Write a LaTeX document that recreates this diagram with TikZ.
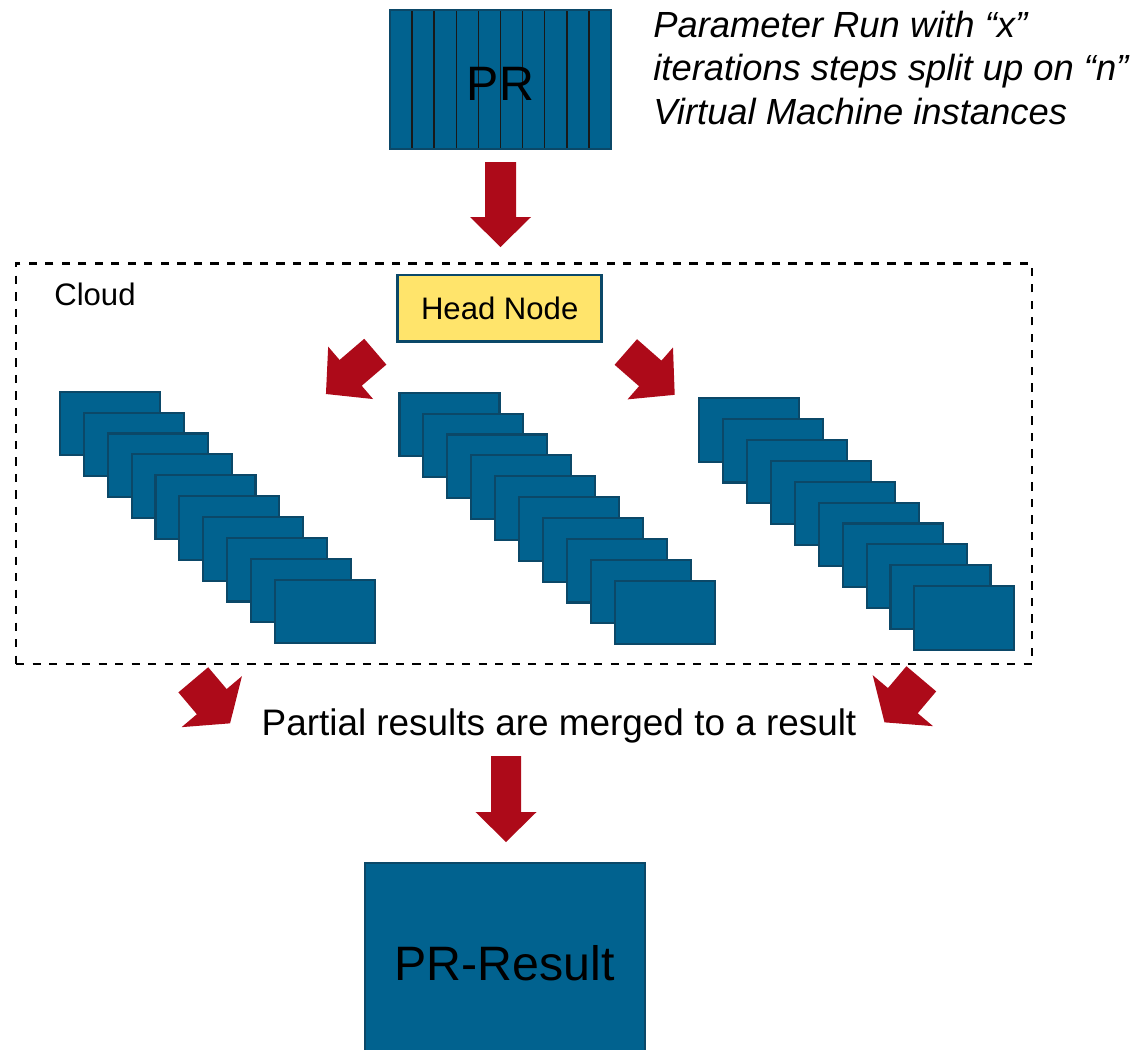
\documentclass[tikz,border=0pt]{standalone}
\usepackage{fontspec}
\setmainfont{Liberation Sans}
\usepackage{tikz}
\usetikzlibrary{calc}
\definecolor{vmblue}{HTML}{01628F}
\definecolor{vmedge}{HTML}{0B4868}
\definecolor{headyellow}{HTML}{FFE46B}
\definecolor{flowred}{HTML}{AD0A19}

\begin{document}
\begin{tikzpicture}[
  x=0.02cm, y=-0.02cm,
  vm/.style={draw=vmedge,fill=vmblue,line width=1.2pt,minimum width=2.0cm,
             minimum height=1.27cm,inner sep=0pt,outer sep=0pt},
  bigbox/.style={draw=vmedge,fill=vmblue,line width=1.1pt,inner sep=0pt,
                 font=\fontsize{27.5}{33}\selectfont},
  lbl/.style={inner sep=0pt,font=\fontsize{17.7}{21}\selectfont},
  pics/fatarrow/.style args={#1/#2/#3/#4}{code={
    \fill[flowred] (0,-#2/2) -- (#1-#4,-#2/2) -- (#1-#4,-#3/2) -- (#1,0)
      -- (#1-#4,#3/2) -- (#1-#4,#2/2) -- (0,#2/2) -- cycle;
  }}
]
\useasboundingbox (0,0) rectangle (1146,1049);

% parameter run, split in strips
\node[bigbox,minimum width=4.42cm,minimum height=2.78cm,text height=23.4pt,text depth=0pt,
      path picture={
        \foreach \k in {1,...,9}
          \draw[black!90,line width=0.85pt]
            ($(path picture bounding box.north west)!\k/10!(path picture bounding box.north east)$)
            -- ($(path picture bounding box.south west)!\k/10!(path picture bounding box.south east)$);
      }] (pr) at (500.5,79.5) {PR};
\node[anchor=base west,inner sep=0pt,align=left,
      font=\fontsize{20.7}{24.5}\selectfont\itshape] (note) at (653,124)
     {Parameter Run with “x”\\iterations steps split up on “n”\\Virtual Machine instances};

% cloud
\node[draw,line width=1.4pt,dash pattern=on 4.7pt off 4.7pt,minimum width=20.32cm,
      minimum height=8.01cm,inner sep=0pt] (cloud) at (524,463.7) {};
\node[lbl,anchor=base west] (cloudlbl) at (54,305) {Cloud};
\node[lbl,draw=vmedge,fill=headyellow,line width=1.5pt,minimum width=4.08cm,
      minimum height=1.33cm] (head) at (499.7,308.3) {Head Node};

% virtual machine stacks
\foreach \sx/\sy/\nm in {109.9/423.4/a,449.5/424.4/b,749.3/429.8/c}
  \foreach \i in {0,...,9}
    \node[vm] (\nm\i) at ({\sx+23.9*\i},{\sy+20.9*\i}) {};

% merging
\node[inner sep=0pt,anchor=base,font=\fontsize{21}{25}\selectfont] (merge)
     at (559,735) {Partial results are merged to a result};
\node[bigbox,minimum width=5.6cm,minimum height=4.04cm] (res) at (504.7,963.7) {PR-Result};

% block arrows
\pic[rotate=-90] at (500.5,162) {fatarrow=85/31/61/30};
\pic[rotate=-139.4] at (375.3,351.7) {fatarrow=65/34/69/32.5};
\pic[rotate=-41.2] at (625.8,352) {fatarrow=65/34/69/32.5};
\pic[rotate=-49.8] at (193.3,679.8) {fatarrow=57/39/79/28.4};
\pic[rotate=-130.2] at (921.3,678.8) {fatarrow=57/39/79/28.4};
\pic[rotate=-90] at (506,756) {fatarrow=86/30/61/30};
\end{tikzpicture}
\end{document}
